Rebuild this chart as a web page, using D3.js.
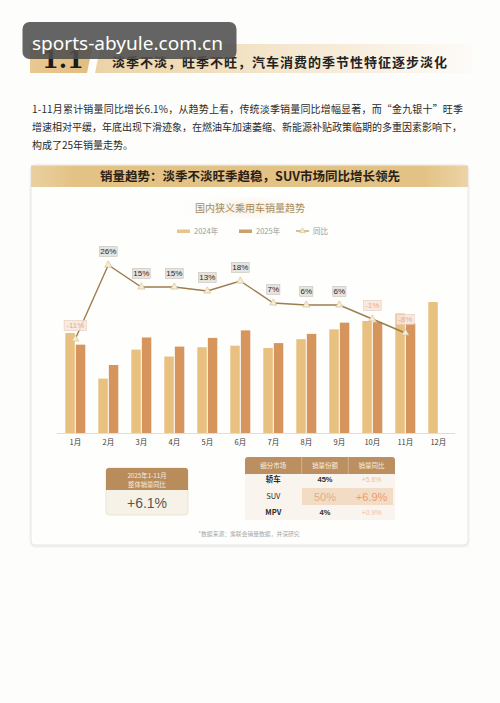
<!DOCTYPE html>
<html><head><meta charset="utf-8">
<script src="https://cdn.jsdelivr.net/npm/d3@7"></script>
<style>
html,body{margin:0;padding:0;background:#fdfdfc;}
svg{display:block;font-family:"Noto Sans CJK SC","Noto Sans",sans-serif;}
</style></head>
<body>
<svg id="c" width="500" height="703"></svg>
<script>
// ---- data ----
const months = ['1月','2月','3月','4月','5月','6月','7月','8月','9月','10月','11月','12月'];
const sales2024 = [203.1,110.4,169.3,155.3,174.2,177.4,172.6,190.5,210.5,227.5,242.8,266.0];
const sales2025 = [179.4,138.1,194.0,175.5,193.2,208.4,182.6,201.3,224.1,225.1,222.4,null];
const yoyPct = [-11,26,15,15,13,18,7,6,6,-1,-8];
const seriesNames = ['2024年','2025年','同比'];
const segments = ['轿车','SUV','MPV'];
const segShare = ['45%','50%','4%'];
const segYoy = ['+5.8%','+6.9%','+0.9%'];
const tableHeads = ['细分市场','销量份额','销量同比'];
const paragraph = [
 '1-11月累计销量同比增长6.1%，从趋势上看，传统淡季销量同比增幅显著，而“金九银十”旺季',
 '增速相对平缓，年底出现下滑迹象，在燃油车加速萎缩、新能源补贴政策临期的多重因素影响下，',
 '构成了25年销量走势。'
];

const svg = d3.select('#c');
const defs = svg.append('defs');
const g1 = defs.append('linearGradient').attr('id','band1').attr('x1',0).attr('x2',1);
g1.append('stop').attr('offset',0).attr('stop-color','#e9c991');
g1.append('stop').attr('offset',1).attr('stop-color','#e2bc80');
const g2 = defs.append('linearGradient').attr('id','band2').attr('x1',0).attr('x2',1);
g2.append('stop').attr('offset',0).attr('stop-color','#ecd3a6');
g2.append('stop').attr('offset',0.6).attr('stop-color','#f6ead6');
g2.append('stop').attr('offset',1).attr('stop-color','#fdfbf8');
const g3 = defs.append('linearGradient').attr('id','hdr').attr('x1',0).attr('x2',1);
g3.append('stop').attr('offset',0).attr('stop-color','#ead0a0');
g3.append('stop').attr('offset',0.1).attr('stop-color','#e3c285');
g3.append('stop').attr('offset',0.9).attr('stop-color','#e3c285');
g3.append('stop').attr('offset',1).attr('stop-color','#ecd4a8');
const rg = defs.append('radialGradient').attr('id','glow');
rg.append('stop').attr('offset',0).attr('stop-color','#f5ead0');
rg.append('stop').attr('offset',1).attr('stop-color','#fdfbf6').attr('stop-opacity',0);
const sh = defs.append('filter').attr('id','sh').attr('x','-5%').attr('y','-5%').attr('width','110%').attr('height','110%');
sh.append('feDropShadow').attr('dx',0).attr('dy',1).attr('stdDeviation',1.2).attr('flood-color','#000').attr('flood-opacity',0.12);

// ---- section header ----
svg.append('path').attr('d','M30,44 L93,44 L87,73 L30,73 Z').attr('fill','url(#band1)');
svg.append('path').attr('d','M101,44 L472,44 L472,73 L95,73 Z').attr('fill','url(#band2)');
svg.append('text').attr('x',42).attr('y',68).attr('font-family','"DejaVu Serif",serif').attr('font-weight','bold')
  .attr('font-size',24).attr('fill','#1a1a1a').text('1.1');
svg.append('text').attr('x',112).attr('y',66.5).attr('font-weight','bold').attr('font-size',13)
  .attr('fill','#222').attr('textLength',335).attr('lengthAdjust','spacing')
  .text('淡季不淡，旺季不旺，汽车消费的季节性特征逐步淡化');

// ---- paragraph ----
const pl = [431,430,null];
paragraph.forEach((t,i)=>{
  const tx = svg.append('text').attr('x',32).attr('y',112.5+i*18).attr('font-size',10).attr('fill','#2a2a2a').text(t);
  if(pl[i]) tx.attr('textLength',pl[i]).attr('lengthAdjust','spacing');
});

// ---- card ----
svg.append('rect').attr('x',31).attr('y',165).attr('width',437).attr('height',380).attr('rx',4)
  .attr('fill','#fefefd').attr('stroke','#ebe6df').attr('filter','url(#sh)');
svg.append('rect').attr('x',31).attr('y',165.5).attr('width',437).attr('height',21.5).attr('fill','url(#hdr)');
svg.append('text').attr('x',250).attr('y',181).attr('text-anchor','middle').attr('font-weight','bold')
  .attr('font-size',12.5).attr('fill','#2a2014').text('销量趋势：淡季不淡旺季趋稳，SUV市场同比增长领先');

// chart title
svg.append('ellipse').attr('cx',250).attr('cy',208).attr('rx',75).attr('ry',14).attr('fill','url(#glow)');
svg.append('text').attr('x',250).attr('y',211.5).attr('text-anchor','middle').attr('font-size',10)
  .attr('fill','#a98a5c').text('国内狭义乘用车销量趋势');

// legend
const lg = svg.append('g').attr('font-size',7.5).attr('fill','#9a9a9a');
const legendItems = [
  {x:177, type:'bar', color:'#e6c48e', label:seriesNames[0]},
  {x:239, type:'bar', color:'#c9a06e', label:seriesNames[1]},
  {x:296, type:'line', color:'#b59769', label:seriesNames[2]}
];
legendItems.forEach(d=>{
  if(d.type==='bar'){
    lg.append('rect').attr('x',d.x).attr('y',229.5).attr('width',13).attr('height',3.5).attr('fill',d.color);
  } else {
    lg.append('line').attr('x1',d.x).attr('x2',d.x+13).attr('y1',231).attr('y2',231).attr('stroke',d.color).attr('stroke-width',1.2);
    lg.append('path').attr('d',d3.symbol(d3.symbolTriangle,14)()).attr('transform',`translate(${d.x+6.5},231)`)
      .attr('fill','#f6ead2').attr('stroke','#d6bb8c').attr('stroke-width',0.6);
  }
  lg.append('text').attr('x',d.x+17).attr('y',234).text(d.label);
});

// ---- bar chart ----
const x = d3.scaleBand().domain(months).range([58.8,454.8]).padding(0);
const xs = d3.scaleBand().domain(['2024','2025']).range([-10,10]).paddingInner(0.1);
const y = d3.scaleLinear().domain([0,300]).range([433,285.3]);
const yl = d3.scaleLinear().domain([-20,30]).range([357,257]);
const bcol = {'2024':'#e8c07f','2025':'#d5955d'};

const bars = svg.append('g');
months.forEach((m,i)=>{
  const cx = x(m)+x.bandwidth()/2;
  [['2024',sales2024[i]],['2025',sales2025[i]]].forEach(([k,v])=>{
    if(v==null) return;
    bars.append('rect').attr('x',cx+xs(k)).attr('width',xs.bandwidth())
      .attr('y',y(v)).attr('height',y(0)-y(v)).attr('fill',bcol[k]);
  });
});

// axis
const ax = svg.append('g').attr('transform','translate(0,433)')
  .call(d3.axisBottom(x).tickSize(0).tickPadding(7));
ax.select('.domain').attr('stroke','#e2ddd6').attr('d','M57,0.5H455');
ax.selectAll('text').attr('font-size',7.5).attr('fill','#3a3a3a').attr('font-family','"Noto Sans CJK SC",sans-serif');

// yoy line
const pts = yoyPct.map((v,i)=>[x(months[i])+x.bandwidth()/2, yl(v)]);
svg.append('path').attr('d',d3.line()(pts)).attr('fill','none').attr('stroke','#9c7d4e').attr('stroke-width',1.4);
svg.selectAll('.mk').data(pts).join('path').attr('class','mk')
  .attr('d',d3.symbol(d3.symbolTriangle,22)()).attr('transform',d=>`translate(${d[0]},${d[1]})`)
  .attr('fill','#f7ecd6').attr('stroke','#d9bf92').attr('stroke-width',0.7);

// labels
const lbl = svg.append('g');
yoyPct.forEach((v,i)=>{
  const [px,py] = pts[i];
  const t = v+'%';
  const neg = v<0;
  const w = t.length*4.6+4;
  lbl.append('rect').attr('x',px-w/2).attr('y',py-18.6).attr('width',w).attr('height',10)
    .attr('fill',neg?'#f5e6dc':'#e7e3de').attr('fill-opacity',neg?0.85:1)
    .attr('stroke',neg?'#e9c9b8':'#c9c1b8').attr('stroke-width',0.6);
  lbl.append('text').attr('x',px).attr('y',py-10.8).attr('text-anchor','middle').attr('font-size',8)
    .attr('font-family','"Liberation Sans",Arial,sans-serif')
    .attr('fill',neg?'#f2a98a':'#2a2a2a').text(t);
});

// ---- bottom summary box ----
const sb = svg.append('g');
sb.append('rect').attr('x',106).attr('y',468).attr('width',82).attr('height',47).attr('rx',3)
  .attr('fill','#f7f2e8').attr('stroke','#ece3d2');
sb.append('path').attr('d','M106,490 V471 Q106,468 109,468 H185 Q188,468 188,471 V490 Z').attr('fill','#b98c5c');
sb.append('text').attr('x',147).attr('y',478).attr('text-anchor','middle').attr('font-size',6.3).attr('fill','#f6ece0').text('2025年1-11月');
sb.append('text').attr('x',147).attr('y',486.5).attr('text-anchor','middle').attr('font-size',6.3).attr('fill','#f6ece0').text('整体销量同比');
sb.append('text').attr('x',147).attr('y',508).attr('text-anchor','middle').attr('font-size',14)
  .attr('font-family','"Liberation Sans",Arial,sans-serif').attr('fill','#5a5550').text('+6.1%');

// ---- table ----
const tb = svg.append('g');
const colC = [273.3,325,371.6];
tb.append('rect').attr('x',245).attr('y',457).attr('width',150).attr('height',63).attr('rx',3).attr('fill','#f9f4ed');
tb.append('path').attr('d','M245,474 V460 Q245,457 248,457 H392 Q395,457 395,460 V474 Z').attr('fill','#bb8f60');
[301.7,348.3].forEach(cx=>tb.append('line').attr('x1',cx).attr('x2',cx).attr('y1',457).attr('y2',474).attr('stroke','#d8bc9a').attr('stroke-width',0.8));
tableHeads.forEach((h,i)=>tb.append('text').attr('x',colC[i]).attr('y',468).attr('text-anchor','middle')
  .attr('font-size',6.5).attr('fill','#f7eee2').text(h));
tb.append('rect').attr('x',302).attr('y',488).attr('width',91).attr('height',17).attr('fill','#f2dcc5');
const rowY = [482,499,515];
segments.forEach((s,i)=>{
  const big = s==='SUV';
  tb.append('text').attr('x',colC[0]).attr('y',rowY[i]).attr('text-anchor','middle').attr('font-size',7.5)
    .attr('font-weight', big?'normal':'bold').attr('fill','#2e2e2e').text(s);
  tb.append('text').attr('x',colC[1]).attr('y',rowY[i]+(big?1.5:0)).attr('text-anchor','middle')
    .attr('font-size',big?11:7.5).attr('font-weight',big?'normal':'bold')
    .attr('font-family','"Liberation Sans",Arial,sans-serif')
    .attr('fill',big?'#e3ad88':'#2e2e2e').text(segShare[i]);
  tb.append('text').attr('x',colC[2]).attr('y',rowY[i]+(big?1.5:0)).attr('text-anchor','middle')
    .attr('font-size',big?11:6.8)
    .attr('font-family','"Liberation Sans",Arial,sans-serif')
    .attr('fill',big?'#f09a68':'#f0bf9c').text(segYoy[i]);
});

// footnote
svg.append('text').attr('x',249).attr('y',535.5).attr('text-anchor','middle').attr('font-size',5.8)
  .attr('fill','#a8a8a8').text('*数据来源：乘联会销量数据，并深研究');

// ---- watermark ----
svg.append('rect').attr('x',22.5).attr('y',22).attr('width',214).attr('height',37).attr('rx',7)
  .attr('fill','#4e4e4e').attr('fill-opacity',0.88);
svg.append('text').attr('x',32).attr('y',49.5).attr('font-family','"Noto Sans",sans-serif').attr('font-size',18)
  .attr('fill','#ffffff').attr('textLength',191).attr('lengthAdjust','spacingAndGlyphs').text('sports-abyule.com.cn');
</script>
</body></html>
